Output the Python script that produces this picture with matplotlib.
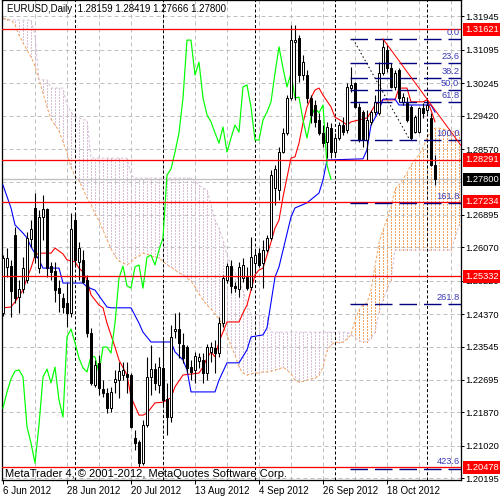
import numpy as np
import matplotlib
matplotlib.use("Agg")
import matplotlib.pyplot as plt
import matplotlib.transforms as mtransforms

plt.rcParams['font.family'] = ['Liberation Sans', 'DejaVu Sans']

# ---------------- data (EURUSD daily, bars 0..108) ----------------
opens = [1.2440, 1.2557, 1.2559, 1.2638, 1.2480, 1.2501, 1.2524, 1.2628, 1.2707, 1.2554,
         1.2684, 1.2704, 1.2559, 1.2547, 1.2503, 1.2478, 1.2465, 1.2440, 1.2676, 1.2570,
         1.2575, 1.2524, 1.2389, 1.2257, 1.2313, 1.2246, 1.2236, 1.2198, 1.2264, 1.2269,
         1.2282, 1.2285, 1.2282, 1.2122, 1.2112, 1.2058, 1.2155, 1.2277, 1.2297, 1.2257,
         1.2300, 1.2221, 1.2175, 1.2394, 1.2399, 1.2358, 1.2353, 1.2302, 1.2295, 1.2318,
         1.2320, 1.2287, 1.2341, 1.2351, 1.2338, 1.2414, 1.2524, 1.2559, 1.2509, 1.2501,
         1.2529, 1.2531, 1.2506, 1.2567, 1.2592, 1.2567, 1.2600, 1.2631, 1.2758, 1.2753,
         1.2849, 1.2898, 1.2987, 1.3129, 1.3139, 1.3045, 1.3045, 1.2987, 1.2969, 1.2931,
         1.2898, 1.2875, 1.2910, 1.2849, 1.2885, 1.2918, 1.2905, 1.3012, 1.3025, 1.2964,
         1.2951, 1.2880, 1.2926, 1.2951, 1.2949, 1.3050, 1.3109, 1.3063, 1.3015, 1.3058,
         1.2977, 1.2974, 1.2964, 1.2900, 1.2900, 1.2961, 1.2956, 1.2936, 1.28159]
highs = [1.2587, 1.2605, 1.2575, 1.2659, 1.2524, 1.2582, 1.2646, 1.2676, 1.2745, 1.2702,
         1.2740, 1.2707, 1.2570, 1.2570, 1.2524, 1.2491, 1.2516, 1.2694, 1.2694, 1.2620,
         1.2600, 1.2537, 1.2402, 1.2320, 1.2333, 1.2269, 1.2249, 1.2252, 1.2295, 1.2315,
         1.2315, 1.2315, 1.2287, 1.2142, 1.2117, 1.2168, 1.2328, 1.2358, 1.2313, 1.2328,
         1.2371, 1.2262, 1.2409, 1.2440, 1.2442, 1.2389, 1.2358, 1.2320, 1.2341, 1.2338,
         1.2338, 1.2361, 1.2366, 1.2371, 1.2430, 1.2537, 1.2567, 1.2575, 1.2519, 1.2570,
         1.2580, 1.2557, 1.2633, 1.2600, 1.2605, 1.2626, 1.2638, 1.2804, 1.2816, 1.2862,
         1.2910, 1.2994, 1.3173, 1.3173, 1.3147, 1.3096, 1.3058, 1.2994, 1.2982, 1.2949,
         1.2918, 1.2926, 1.2923, 1.2898, 1.2926, 1.2938, 1.3025, 1.3066, 1.3028, 1.2974,
         1.2956, 1.2956, 1.2956, 1.2994, 1.3078, 1.3137, 1.3122, 1.3076, 1.3058, 1.3063,
         1.2999, 1.2989, 1.2969, 1.2944, 1.2964, 1.2974, 1.2982, 1.2949, 1.28419]
lows = [1.2432, 1.2531, 1.2430, 1.2465, 1.2440, 1.2491, 1.2516, 1.2608, 1.2567, 1.2542,
        1.2626, 1.2531, 1.2524, 1.2468, 1.2442, 1.2440, 1.2404, 1.2430, 1.2557, 1.2524,
        1.2516, 1.2379, 1.2257, 1.2252, 1.2231, 1.2226, 1.2185, 1.2188, 1.2236, 1.2224,
        1.2269, 1.2236, 1.2147, 1.2091, 1.2048, 1.2053, 1.2150, 1.2231, 1.2244, 1.2236,
        1.2206, 1.2129, 1.2163, 1.2376, 1.2325, 1.2313, 1.2287, 1.2269, 1.2262, 1.2300,
        1.2262, 1.2269, 1.2315, 1.2287, 1.2328, 1.2404, 1.2516, 1.2491, 1.2493, 1.2480,
        1.2519, 1.2498, 1.2498, 1.2542, 1.2557, 1.2503, 1.2595, 1.2626, 1.2715, 1.2727,
        1.2847, 1.2893, 1.2982, 1.2982, 1.3028, 1.3033, 1.2974, 1.2923, 1.2913, 1.2893,
        1.2862, 1.2834, 1.2834, 1.2837, 1.2880, 1.2893, 1.2898, 1.3002, 1.2961, 1.2875,
        1.2862, 1.2829, 1.2918, 1.2944, 1.2944, 1.3045, 1.3053, 1.3012, 1.3007, 1.2977,
        1.2969, 1.2926, 1.2880, 1.2898, 1.2898, 1.2936, 1.2949, 1.2814, 1.27666]
closes = [1.2580, 1.2580, 1.2496, 1.2478, 1.2501, 1.2554, 1.2631, 1.2654, 1.2582, 1.2684,
          1.2704, 1.2554, 1.2544, 1.2498, 1.2491, 1.2455, 1.2440, 1.2654, 1.2575, 1.2605,
          1.2519, 1.2389, 1.2262, 1.2308, 1.2249, 1.2236, 1.2198, 1.2239, 1.2272, 1.2292,
          1.2295, 1.2277, 1.2150, 1.2109, 1.2058, 1.2155, 1.2277, 1.2297, 1.2262, 1.2302,
          1.2218, 1.2175, 1.2379, 1.2399, 1.2364, 1.2325, 1.2300, 1.2290, 1.2330, 1.2328,
          1.2287, 1.2353, 1.2353, 1.2338, 1.2414, 1.2529, 1.2559, 1.2509, 1.2503, 1.2557,
          1.2562, 1.2503, 1.2582, 1.2587, 1.2562, 1.2600, 1.2631, 1.2791, 1.2806, 1.2849,
          1.2898, 1.2987, 1.3134, 1.3134, 1.3045, 1.3078, 1.2987, 1.2944, 1.2926, 1.2898,
          1.2872, 1.2913, 1.2849, 1.2885, 1.2918, 1.2900, 1.3015, 1.3020, 1.2964, 1.2880,
          1.2880, 1.2931, 1.2951, 1.2977, 1.3050, 1.3117, 1.3063, 1.3015, 1.3050, 1.2987,
          1.2989, 1.2931, 1.2885, 1.2938, 1.2961, 1.2949, 1.2969, 1.2816, 1.27800]

# Ichimoku lines (read at their break points, bar index -> price)
tenkan_idx = [0, 2, 3, 5, 6, 7, 8, 9, 12, 13, 15, 16, 18, 19, 20, 21, 22, 24, 25, 26,
              28, 29, 31, 32, 34, 35, 36, 38, 40, 42, 43, 45, 49, 50, 51, 52, 53, 54, 56, 59,
              60, 61, 62, 63, 64, 65, 67, 68, 69, 70, 72, 73, 74, 75, 76, 77, 78, 79, 80, 82,
              83, 85, 86, 87, 91, 92, 93, 95, 98, 99, 101, 102, 105, 106, 107, 108]
tenkan_val = [1.2453, 1.2455, 1.2468, 1.2498, 1.2529, 1.2554, 1.2587, 1.2592, 1.2592, 1.2605,
              1.2590, 1.2575, 1.2570, 1.2554, 1.2544, 1.2524, 1.2486, 1.2460, 1.2453, 1.2414,
              1.2353, 1.2320, 1.2282, 1.2226, 1.2180, 1.2180, 1.2185, 1.2211, 1.2213, 1.2224,
              1.2252, 1.2282, 1.2287, 1.2302, 1.2325, 1.2341, 1.2328, 1.2366, 1.2417, 1.2417,
              1.2440, 1.2460, 1.2498, 1.2537, 1.2549, 1.2554, 1.2620, 1.2656, 1.2676, 1.2735,
              1.2834, 1.2837, 1.2872, 1.2923, 1.2964, 1.2987, 1.3007, 1.3012, 1.2994, 1.2964,
              1.2938, 1.2926, 1.2918, 1.2926, 1.2936, 1.2951, 1.2969, 1.2982, 1.2982, 1.3012,
              1.3012, 1.2977, 1.2977, 1.2982, 1.2956, 1.2926]
kijun_idx = [0, 2, 3, 5, 6, 7, 9, 10, 14, 15, 20, 21, 23, 26, 27, 32, 34, 35, 37, 42,
             43, 45, 46, 47, 53, 54, 56, 59, 61, 62, 65, 66, 68, 69, 72, 73, 76, 79, 80, 81,
             90, 91, 92, 93, 94, 95, 98, 99, 107, 108]
kijun_val = [1.2765, 1.2707, 1.2664, 1.2643, 1.2631, 1.2608, 1.2575, 1.2554, 1.2554, 1.2516,
             1.2516, 1.2506, 1.2498, 1.2455, 1.2453, 1.2453, 1.2414, 1.2391, 1.2366, 1.2366,
             1.2341, 1.2320, 1.2295, 1.2239, 1.2239, 1.2269, 1.2313, 1.2313, 1.2346, 1.2379,
             1.2384, 1.2402, 1.2531, 1.2557, 1.2684, 1.2707, 1.2720, 1.2745, 1.2778, 1.2829,
             1.2832, 1.2855, 1.2918, 1.2936, 1.2956, 1.2984, 1.2984, 1.2969, 1.2969, 1.2951]
chikou_shift = 26

# Senkou spans as displayed (bar positions 0..114)
senkou_a = [1.3190, 1.3188, 1.3185, 1.3173, 1.3147, 1.3127, 1.3109, 1.3091, 1.3068, 1.3033,
            1.2999, 1.2964, 1.2933, 1.2918, 1.2903, 1.2875, 1.2847, 1.2811, 1.2788, 1.2776,
            1.2755, 1.2732, 1.2715, 1.2692, 1.2674, 1.2651, 1.2626, 1.2603, 1.2585, 1.2572,
            1.2567, 1.2562, 1.2570, 1.2580, 1.2585, 1.2592, 1.2590, 1.2585, 1.2582, 1.2580,
            1.2572, 1.2562, 1.2557, 1.2549, 1.2542, 1.2537, 1.2529, 1.2521, 1.2506, 1.2488,
            1.2473, 1.2460, 1.2450, 1.2437, 1.2425, 1.2407, 1.2384, 1.2356, 1.2333, 1.2302,
            1.2287, 1.2282, 1.2285, 1.2287, 1.2287, 1.2290, 1.2290, 1.2292, 1.2295, 1.2297,
            1.2302, 1.2295, 1.2285, 1.2269, 1.2264, 1.2266, 1.2269, 1.2272, 1.2274, 1.2282,
            1.2302, 1.2343, 1.2358, 1.2366, 1.2364, 1.2366, 1.2374, 1.2384, 1.2422, 1.2447,
            1.2460, 1.2465, 1.2498, 1.2559, 1.2618, 1.2651, 1.2679, 1.2710, 1.2755, 1.2765,
            1.2781, 1.2796, 1.2816, 1.2829, 1.2842, 1.2860, 1.2885, 1.2903, 1.2910, 1.2910,
            1.2908, 1.2905, 1.2903, 1.2900, 1.2898]
senkou_b = [1.3188, 1.3185, 1.3185, 1.3185, 1.3185, 1.3185, 1.3185, 1.3185, 1.3147, 1.3033,
            1.3033, 1.3033, 1.3012, 1.3012, 1.3012, 1.3012, 1.2969, 1.2951, 1.2938, 1.2936,
            1.2931, 1.2931, 1.2834, 1.2834, 1.2834, 1.2834, 1.2834, 1.2834, 1.2834, 1.2834,
            1.2834, 1.2834, 1.2791, 1.2783, 1.2783, 1.2783, 1.2783, 1.2783, 1.2783, 1.2783,
            1.2783, 1.2783, 1.2783, 1.2783, 1.2783, 1.2783, 1.2783, 1.2783, 1.2776, 1.2765,
            1.2758, 1.2753, 1.2715, 1.2676, 1.2656, 1.2626, 1.2587, 1.2562, 1.2542, 1.2519,
            1.2498, 1.2465, 1.2437, 1.2435, 1.2435, 1.2432, 1.2430, 1.2391, 1.2391, 1.2391,
            1.2391, 1.2391, 1.2391, 1.2391, 1.2391, 1.2391, 1.2391, 1.2391, 1.2391, 1.2391,
            1.2391, 1.2391, 1.2391, 1.2391, 1.2391, 1.2391, 1.2391, 1.2386, 1.2376, 1.2369,
            1.2366, 1.2366, 1.2376, 1.2391, 1.2442, 1.2473, 1.2498, 1.2524, 1.2600, 1.2600,
            1.2600, 1.2600, 1.2600, 1.2600, 1.2600, 1.2600, 1.2600, 1.2600, 1.2600, 1.2600,
            1.2600, 1.2600, 1.2600, 1.2631, 1.2664]

# horizontal price levels (red) and the current bid
red_levels = [1.31621, 1.28291, 1.27234, 1.25332, 1.20478]
bid = 1.27800

# Fibonacci retracement
fib_high = 1.3137
fib_low = 1.2879
fib_ratios = [0.0, 23.6, 38.2, 50.0, 61.8, 100.0, 161.8, 261.8, 423.6]
fib_start = 86.75
fib_anchor_x = [87.5, 101.75]
trend_x = [95, 114.5]
trend_y = [1.3137, 1.2866]

# verticals
vlines_black = [18, 40, 63, 83, 106]

# axis labels
yticks = [1.31945, 1.31095, 1.30245, 1.29420, 1.28570, 1.26895, 1.26070, 1.25220,
          1.24370, 1.23545, 1.22695, 1.21870, 1.21020, 1.20195]
date_pos = [0, 16, 32, 48, 64, 80, 96]
date_labels = ['6 Jun 2012', '28 Jun 2012', '20 Jul 2012', '13 Aug 2012',
               '4 Sep 2012', '26 Sep 2012', '18 Oct 2012']

# ---------------- figure ----------------
fig = plt.figure(figsize=(5, 5), dpi=100)
ax = fig.add_axes([2 / 500, 20 / 500, 459 / 500, 480 / 500])
ax.set_xlim(-0.25, 114.5)
ax.set_ylim(1.20149, 1.32361)

px = 0.72  # one pixel in points
FS = 6.7

# grid
for y in yticks + [1.27720]:
    ax.axhline(y, color='#c0c0c0', lw=px, ls=(0, (4, 3)), zorder=1)
for x in range(8, 115, 8):
    ax.axvline(x, color='#c0c0c0', lw=px, ls=(0, (4, 3)), zorder=1)

# cloud
A = np.array(senkou_a)
B = np.array(senkou_b)
xs = np.arange(len(A))
for j in xs:
    col = '#F4A460' if A[j] >= B[j] else '#D8BFD8'
    lo, hi = min(A[j], B[j]), max(A[j], B[j])
    if hi - lo > 1e-6:
        ax.vlines(j, lo, hi, colors=col, lw=px, linestyles=(0, (2, 2)),
                  zorder=1.5, antialiased=False)
ax.plot(xs, A, color='#F4A460', lw=px, ls=(0, (2.8, 2)), zorder=1.6)
ax.plot(xs, B, color='#D8BFD8', lw=px, ls=(0, (2.8, 2)), zorder=1.6)

# black vertical dashed lines
for x in vlines_black:
    ax.axvline(x, color='black', lw=px, ls=(0, (3, 2.2)), zorder=2)

# bid line
ax.axhline(bid, color='#c0c0c0', lw=px * 1.3, zorder=2)

# ichimoku lines
ax.plot(tenkan_idx, tenkan_val, color='red', lw=px * 1.1, zorder=3)
ax.plot(kijun_idx, kijun_val, color='blue', lw=px * 1.1, zorder=3)
c = np.array(closes)
idx = np.arange(len(c))
ax.plot(idx[chikou_shift:] - chikou_shift, c[chikou_shift:], color='#00FF00', lw=px * 1.2, zorder=3)

# candles
o = np.array(opens); h = np.array(highs); l = np.array(lows)
ax.vlines(idx, l, h, color='black', lw=px * 1.1, zorder=4)
up = c >= o
ax.bar(idx, np.maximum(np.abs(c - o), 0.00005), bottom=np.minimum(o, c), width=0.62,
       color=np.where(up, 'white', 'black'), edgecolor='black', linewidth=px, zorder=5)

# red horizontal lines
for y in red_levels:
    ax.axhline(y, color='red', lw=px * 1.3, zorder=6)

# fibonacci
rng = fib_high - fib_low
for r in fib_ratios:
    y = fib_high - r / 100.0 * rng
    ax.plot([fib_start, 114.5], [y, y], color='#000080', lw=px * 1.4,
            ls=(0, (12.5, 5)), zorder=6, clip_on=True)
    ax.annotate(f'{r:.1f}', xy=(114.1, y), xytext=(0, 1.5), textcoords='offset points',
                ha='right', va='bottom', fontsize=FS, color='#3c3cb4', zorder=7)
ax.plot(fib_anchor_x, [fib_high, fib_low], color='black', lw=px, ls=(0, (1.5, 2.5)), zorder=6)
ax.plot(trend_x, trend_y, color='red', lw=px, zorder=6)

# axes styling
for s in ['left', 'right', 'bottom', 'top']:
    ax.spines[s].set_color('black')
    ax.spines[s].set_linewidth(px * 1.3)
ax.yaxis.tick_right()
ax.set_yticks(yticks)
ax.set_yticklabels([f'{v:.5f}' for v in yticks])
ax.tick_params(axis='y', direction='out', length=2, width=px, pad=0.8, labelsize=FS, colors='black')
ax.set_xticks(date_pos)
ax.set_xticklabels(date_labels)
ax.tick_params(axis='x', direction='out', length=3, width=px, pad=1.5, labelsize=7)
for t in ax.get_xticklabels():
    t.set_horizontalalignment('left')

# price boxes on right axis
trans = mtransforms.blended_transform_factory(ax.transAxes, ax.transData)
offs = mtransforms.offset_copy(trans, fig=fig, x=4, y=0, units='dots')
for y in red_levels:
    ax.text(1.0, y, f'{y:.5f}', transform=offs, ha='left', va='center', fontsize=FS,
            color='white', clip_on=False, zorder=20,
            bbox=dict(boxstyle='square,pad=0.22', fc='red', ec='none'))
ax.text(1.0, bid, f'{bid:.5f}', transform=offs, ha='left', va='center', fontsize=FS,
        color='white', clip_on=False, zorder=20,
        bbox=dict(boxstyle='square,pad=0.22', fc='black', ec='none'))

# texts
ax.text(0.011, 0.992, 'EURUSD,Daily  1.28159 1.28419 1.27666 1.27800', transform=ax.transAxes,
        ha='left', va='top', fontsize=7, color='black', zorder=20)
ax.text(0.007, 0.003, 'MetaTrader 4, © 2001-2012, MetaQuotes Software Corp.', transform=ax.transAxes,
        ha='left', va='bottom', fontsize=8, color='black', zorder=20)

fig.savefig('out.png', dpi=100, facecolor='white')
